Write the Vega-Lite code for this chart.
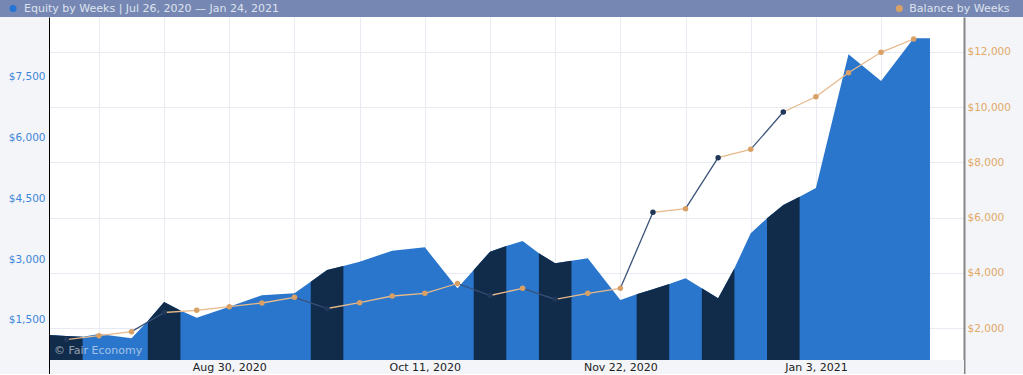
{
  "$schema": "https://vega.github.io/schema/vega-lite/v6.json",
  "background": "#f3f5f9",
  "padding": 0,
  "config": {"view": {"stroke": null}, "font": "DejaVu Sans"},
  "datasets": {
    "equity": [
      {"date": "2020-07-22T12:00:00", "equity": 1129, "stripe": "s1"},
      {"date": "2020-07-26T00:00:00", "equity": 1102, "stripe": "s1"},
      {"date": "2020-07-29T12:00:00", "equity": 1087, "stripe": "s1"},
      {"date": "2020-08-02T00:00:00", "equity": 1154},
      {"date": "2020-08-09T00:00:00", "equity": 1048},
      {"date": "2020-08-12T12:00:00", "equity": 1474, "stripe": "s2"},
      {"date": "2020-08-16T00:00:00", "equity": 1943, "stripe": "s2"},
      {"date": "2020-08-19T12:00:00", "equity": 1733, "stripe": "s2"},
      {"date": "2020-08-23T00:00:00", "equity": 1556},
      {"date": "2020-08-30T00:00:00", "equity": 1827},
      {"date": "2020-09-06T00:00:00", "equity": 2108},
      {"date": "2020-09-13T00:00:00", "equity": 2157},
      {"date": "2020-09-16T12:00:00", "equity": 2443, "stripe": "s3"},
      {"date": "2020-09-20T00:00:00", "equity": 2732, "stripe": "s3"},
      {"date": "2020-09-23T12:00:00", "equity": 2831, "stripe": "s3"},
      {"date": "2020-09-27T00:00:00", "equity": 2937},
      {"date": "2020-10-04T00:00:00", "equity": 3208},
      {"date": "2020-10-11T00:00:00", "equity": 3292},
      {"date": "2020-10-18T00:00:00", "equity": 2281},
      {"date": "2020-10-21T12:00:00", "equity": 2732, "stripe": "s4"},
      {"date": "2020-10-25T00:00:00", "equity": 3183, "stripe": "s4"},
      {"date": "2020-10-28T12:00:00", "equity": 3324, "stripe": "s4"},
      {"date": "2020-11-01T00:00:00", "equity": 3447},
      {"date": "2020-11-04T12:00:00", "equity": 3144, "stripe": "s5"},
      {"date": "2020-11-08T00:00:00", "equity": 2897, "stripe": "s5"},
      {"date": "2020-11-11T12:00:00", "equity": 2961, "stripe": "s5"},
      {"date": "2020-11-15T00:00:00", "equity": 3020},
      {"date": "2020-11-22T00:00:00", "equity": 1992},
      {"date": "2020-11-25T12:00:00", "equity": 2133, "stripe": "s6"},
      {"date": "2020-11-29T00:00:00", "equity": 2258, "stripe": "s6"},
      {"date": "2020-12-02T12:00:00", "equity": 2387, "stripe": "s6"},
      {"date": "2020-12-06T00:00:00", "equity": 2527},
      {"date": "2020-12-09T12:00:00", "equity": 2281, "stripe": "s7"},
      {"date": "2020-12-13T00:00:00", "equity": 2034, "stripe": "s7"},
      {"date": "2020-12-16T12:00:00", "equity": 2774, "stripe": "s7"},
      {"date": "2020-12-20T00:00:00", "equity": 3637},
      {"date": "2020-12-23T12:00:00", "equity": 4007, "stripe": "s8"},
      {"date": "2020-12-27T00:00:00", "equity": 4335, "stripe": "s8"},
      {"date": "2020-12-30T12:00:00", "equity": 4539, "stripe": "s8"},
      {"date": "2021-01-03T00:00:00", "equity": 4754},
      {"date": "2021-01-10T00:00:00", "equity": 8051},
      {"date": "2021-01-17T00:00:00", "equity": 7393},
      {"date": "2021-01-24T00:00:00", "equity": 8446},
      {"date": "2021-01-27T12:00:00", "equity": 8446}
    ],
    "balance": [
      {"date": "2020-07-26T00:00:00", "balance": 1592, "week": "dark"},
      {"date": "2020-08-02T00:00:00", "balance": 1733, "week": "normal"},
      {"date": "2020-08-09T00:00:00", "balance": 1878, "week": "normal"},
      {"date": "2020-08-16T00:00:00", "balance": 2572, "week": "dark"},
      {"date": "2020-08-23T00:00:00", "balance": 2651, "week": "normal"},
      {"date": "2020-08-30T00:00:00", "balance": 2781, "week": "normal"},
      {"date": "2020-09-06T00:00:00", "balance": 2915, "week": "normal"},
      {"date": "2020-09-13T00:00:00", "balance": 3121, "week": "normal"},
      {"date": "2020-09-20T00:00:00", "balance": 2716, "week": "dark"},
      {"date": "2020-09-27T00:00:00", "balance": 2926, "week": "normal"},
      {"date": "2020-10-04T00:00:00", "balance": 3168, "week": "normal"},
      {"date": "2020-10-11T00:00:00", "balance": 3266, "week": "normal"},
      {"date": "2020-10-18T00:00:00", "balance": 3620, "week": "normal"},
      {"date": "2020-10-25T00:00:00", "balance": 3186, "week": "dark"},
      {"date": "2020-11-01T00:00:00", "balance": 3446, "week": "normal"},
      {"date": "2020-11-08T00:00:00", "balance": 3049, "week": "dark"},
      {"date": "2020-11-15T00:00:00", "balance": 3266, "week": "normal"},
      {"date": "2020-11-22T00:00:00", "balance": 3446, "week": "normal"},
      {"date": "2020-11-29T00:00:00", "balance": 6194, "week": "dark"},
      {"date": "2020-12-06T00:00:00", "balance": 6324, "week": "normal"},
      {"date": "2020-12-13T00:00:00", "balance": 8168, "week": "dark"},
      {"date": "2020-12-20T00:00:00", "balance": 8471, "week": "normal"},
      {"date": "2020-12-27T00:00:00", "balance": 9820, "week": "dark"},
      {"date": "2021-01-03T00:00:00", "balance": 10373, "week": "normal"},
      {"date": "2021-01-10T00:00:00", "balance": 11240, "week": "normal"},
      {"date": "2021-01-17T00:00:00", "balance": 11978, "week": "normal"},
      {"date": "2021-01-24T00:00:00", "balance": 12459, "week": "normal"}
    ]
  },
  "spacing": 0,
  "resolve": {
    "scale": {"fill": "independent", "color": "independent", "stroke": "independent"},
    "legend": {"fill": "independent", "color": "independent", "stroke": "independent"}
  },
  "vconcat": [
    {
      "width": 1023,
      "height": 17,
      "view": {"fill": "#7787b3", "stroke": null},
      "layer": [
        {
          "data": {"values": [{"s": "Equity by Weeks | Jul 26, 2020 — Jan 24, 2021"}]},
          "mark": {"type": "point", "filled": true, "opacity": 0},
          "encoding": {
            "fill": {
              "field": "s", "type": "nominal",
              "scale": {"range": ["#2474d6"]},
              "legend": {"orient": "none", "legendX": 7.5, "legendY": 3, "title": null, "padding": 0,
                "labelColor": "#dde3ee", "labelFontSize": 11, "labelFont": "DejaVu Sans", "labelOffset": 5.5, "labelLimit": 500,
                "symbolType": "circle", "symbolSize": 49, "symbolStrokeWidth": 0, "symbolOpacity": 1}
            }
          }
        },
        {
          "data": {"values": [{"s": "Balance by Weeks"}]},
          "mark": {"type": "point", "filled": true, "opacity": 0},
          "encoding": {
            "color": {
              "field": "s", "type": "nominal",
              "scale": {"range": ["#d9a066"]},
              "legend": {"orient": "none", "legendX": 893.8, "legendY": 3, "title": null, "padding": 0,
                "labelColor": "#dde3ee", "labelFontSize": 11, "labelFont": "DejaVu Sans", "labelOffset": 4.5, "labelLimit": 500,
                "symbolType": "circle", "symbolSize": 49, "symbolStrokeWidth": 0, "symbolOpacity": 1}
            }
          }
        }
      ],
      "resolve": {"legend": {"fill": "independent", "color": "independent"}}
    },
    {
      "width": 964,
      "height": 357,
      "view": {"fill": "#ffffff", "stroke": null},
      "layer": [
        {
          "data": {"values": [{}]},
          "mark": {"type": "rect", "color": "#f3f5f9"},
          "encoding": {
            "y": {"datum": 512, "type": "quantitative", "scale": {"domain": [167, 8971], "nice": false, "zero": false}, "axis": null},
            "y2": {"datum": 167}
          }
        },
        {
          "data": {"values": [{}]},
          "mark": {"type": "rect", "color": "#f3f5f9"},
          "encoding": {
            "x": {"datum": {"year": 2020, "month": 7, "date": 11, "hours": 18}, "type": "temporal", "axis": null},
            "x2": {"datum": {"year": 2020, "month": 7, "date": 22, "hours": 6, "minutes": 36}}
          }
        },
        {
          "data": {"name": "equity"},
          "mark": {"type": "area", "color": "#2a76cc"},
          "encoding": {
            "x": {"field": "date", "type": "temporal",
              "scale": {"domain": [{"year": 2020, "month": 7, "date": 11, "hours": 18}, {"year": 2021, "month": 2, "date": 3, "hours": 19, "minutes": 26}], "nice": false},
              "axis": {"orient": "top", "title": null, "labels": false, "ticks": false, "domain": false, "grid": true, "gridColor": "#e8ebf2", "gridWidth": 1,
                "values": [
                  {"year": 2020, "month": 8, "date": 2}, {"year": 2020, "month": 8, "date": 16}, {"year": 2020, "month": 8, "date": 30},
                  {"year": 2020, "month": 9, "date": 13}, {"year": 2020, "month": 9, "date": 27}, {"year": 2020, "month": 10, "date": 11},
                  {"year": 2020, "month": 10, "date": 25}, {"year": 2020, "month": 11, "date": 8}, {"year": 2020, "month": 11, "date": 22},
                  {"year": 2020, "month": 12, "date": 6}, {"year": 2020, "month": 12, "date": 20}, {"year": 2021, "month": 1, "date": 3},
                  {"year": 2021, "month": 1, "date": 17}
                ]}},
            "y": {"field": "equity", "type": "quantitative",
              "scale": {"domain": [167, 8971], "nice": false, "zero": false},
              "axis": {"orient": "left", "offset": -49, "title": null, "values": [1500, 3000, 4500, 6000, 7500], "format": "$,.0f",
                "labelColor": "#3d86d8", "labelFontSize": 10.5, "labelFont": "DejaVu Sans", "labelPadding": 4, "ticks": false, "tickSize": 0,
                "domain": true, "domainColor": "#000000", "domainWidth": 1, "grid": false, "zindex": 1}},
            "y2": {"datum": 512}
          }
        },
        {
          "data": {"name": "equity"},
          "transform": [{"filter": "isValid(datum.stripe)"}],
          "mark": {"type": "area", "color": "#112b4b"},
          "encoding": {
            "x": {"field": "date", "type": "temporal",
              "axis": {"orient": "bottom", "title": null, "format": "%b %-d, %Y", "labelColor": "#222222", "labelFontSize": 11, "labelFont": "DejaVu Sans",
                "ticks": false, "tickSize": 0, "labelPadding": -6.5, "labelBaseline": "middle", "domain": true, "domainColor": "#1a1a1a", "grid": false, "zindex": 1,
                "values": [{"year": 2020, "month": 8, "date": 30}, {"year": 2020, "month": 10, "date": 11}, {"year": 2020, "month": 11, "date": 22}, {"year": 2021, "month": 1, "date": 3}]}},
            "y": {"field": "equity", "type": "quantitative", "scale": {"domain": [167, 8971], "nice": false, "zero": false}, "axis": null},
            "y2": {"datum": 512},
            "detail": {"field": "stripe", "type": "nominal"}
          }
        },
        {
          "data": {"name": "balance"},
          "transform": [
            {"window": [
              {"op": "lead", "field": "date", "as": "date2"},
              {"op": "lead", "field": "balance", "as": "balance2"},
              {"op": "lead", "field": "week", "as": "week2"}
            ], "sort": [{"field": "date"}]},
            {"filter": "isValid(datum.date2)"}
          ],
          "mark": {"type": "rule", "strokeWidth": 1.3},
          "encoding": {
            "x": {"field": "date", "type": "temporal", "axis": null},
            "x2": {"field": "date2"},
            "y": {"field": "balance", "type": "quantitative",
              "scale": {"domain": [348, 13255], "nice": false, "zero": false},
              "axis": {"orient": "right", "title": null, "values": [2000, 4000, 6000, 8000, 10000, 12000], "format": "$,.0f",
                "labelColor": "#e2a866", "labelFontSize": 10.5, "labelFont": "DejaVu Sans", "labelPadding": 3, "ticks": false, "tickSize": 0,
                "domain": true, "domainColor": "#858585", "domainWidth": 2, "grid": true, "gridColor": "#e8ebf2", "gridWidth": 1}},
            "y2": {"field": "balance2"},
            "stroke": {"field": "week2", "type": "nominal", "scale": {"domain": ["dark", "normal"], "range": ["#3a5279", "#e6b98a"]}, "legend": null}
          }
        },
        {
          "data": {"name": "balance"},
          "mark": {"type": "point", "filled": true, "size": 30, "opacity": 1},
          "encoding": {
            "x": {"field": "date", "type": "temporal", "axis": null},
            "y": {"field": "balance", "type": "quantitative", "scale": {"domain": [348, 13255], "nice": false, "zero": false}, "axis": null},
            "fill": {"field": "week", "type": "nominal", "scale": {"domain": ["dark", "normal"], "range": ["#20375a", "#d9a066"]}, "legend": null}
          }
        },
        {
          "data": {"values": [{"label": "© Fair Economy"}]},
          "mark": {"type": "text", "align": "left", "baseline": "middle", "fontSize": 11, "color": "#ffffff", "opacity": 0.55, "font": "DejaVu Sans"},
          "encoding": {
            "x": {"datum": {"year": 2020, "month": 7, "date": 23, "hours": 8}, "type": "temporal", "axis": null},
            "y": {"datum": 734, "type": "quantitative", "scale": {"domain": [167, 8971], "nice": false, "zero": false}, "axis": null},
            "text": {"field": "label", "type": "nominal"}
          }
        }
      ],
      "resolve": {"scale": {"y": "independent"}, "axis": {"x": "independent", "y": "independent"}}
    }
  ]
}
